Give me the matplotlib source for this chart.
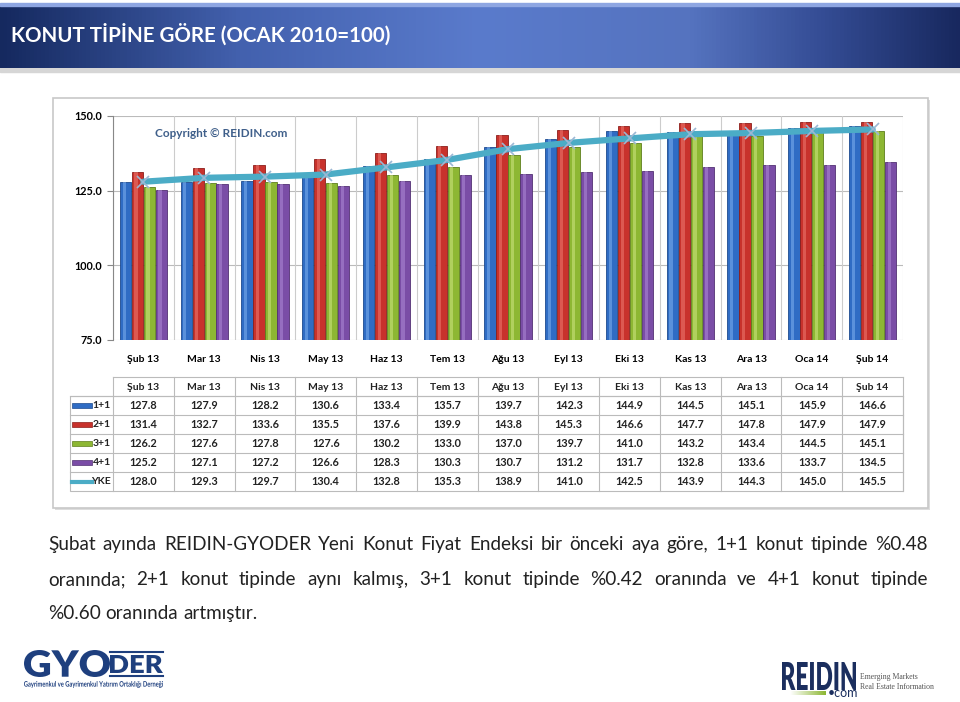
import numpy as np
import matplotlib
matplotlib.use("Agg")
import matplotlib.pyplot as plt
from matplotlib.colors import LinearSegmentedColormap
from matplotlib.textpath import TextPath
from matplotlib.font_manager import FontProperties
from matplotlib.patches import PathPatch, Rectangle
from matplotlib.transforms import Affine2D

# data
months = ["Şub 13", "Mar 13", "Nis 13", "May 13", "Haz 13", "Tem 13", "Ağu 13",
          "Eyl 13", "Eki 13", "Kas 13", "Ara 13", "Oca 14", "Şub 14"]
series_names = ["1+1", "2+1", "3+1", "4+1"]
v_1p1 = [127.8, 127.9, 128.2, 130.6, 133.4, 135.7, 139.7, 142.3, 144.9, 144.5, 145.1, 145.9, 146.6]
v_2p1 = [131.4, 132.7, 133.6, 135.5, 137.6, 139.9, 143.8, 145.3, 146.6, 147.7, 147.8, 147.9, 147.9]
v_3p1 = [126.2, 127.6, 127.8, 127.6, 130.2, 133.0, 137.0, 139.7, 141.0, 143.2, 143.4, 144.5, 145.1]
v_4p1 = [125.2, 127.1, 127.2, 126.6, 128.3, 130.3, 130.7, 131.2, 131.7, 132.8, 133.6, 133.7, 134.5]
yke = [128.0, 129.3, 129.7, 130.4, 132.8, 135.3, 138.9, 141.0, 142.5, 143.9, 144.3, 145.0, 145.5]
yticks = [75.0, 100.0, 125.0, 150.0]

title = "KONUT TİPİNE GÖRE (OCAK 2010=100)"
body_lines = [
    "Şubat ayında REIDIN-GYODER Yeni Konut Fiyat Endeksi bir önceki aya göre, 1+1 konut tipinde %0.48",
    "oranında; 2+1 konut tipinde aynı kalmış, 3+1 konut tipinde %0.42 oranında ve 4+1 konut tipinde",
    "%0.60 oranında artmıştır.",
]

bar_cols = ["#2F6CC4", "#C8322C", "#8DB733", "#7A4DA6"]
bar_hi = ["#7FB0EE", "#EE7A70", "#CDE683", "#AE8AD6"]
bar_edge = ["#1D4A8E", "#8C1E1A", "#5E7F1C", "#523173"]
line_col = "#4BACC6"

FONT = "Lato"
W, H = 960, 702
fig = plt.figure(figsize=(W / 100, H / 100), dpi=100)

# overlay in pixel coordinates for the slide decoration
ov = fig.add_axes([0, 0, 1, 1], zorder=0)
ov.set_xlim(0, W)
ov.set_ylim(H, 0)
ov.axis("off")

# header gradient bar
hdr = LinearSegmentedColormap.from_list("hdr", [(0, "#15295F"), (0.25, "#4361AE"), (0.5, "#5A7BCC"),
                                                (0.72, "#5573BF"), (0.86, "#344C94"), (1, "#18285F")])
ov.add_patch(Rectangle((0, 68), W, 4, color="#D6D6D6", zorder=1))
ov.imshow(np.linspace(0, 1, 256)[None, :], cmap=hdr, aspect="auto",
          extent=(0, W, 68, 4), zorder=2)
ov.add_patch(Rectangle((0, 3), W, 3, color="#8EA6E2", zorder=3))
ov.text(11, 34, title, color="white", fontsize=14.8, fontweight="bold",
        family=FONT, va="center", ha="left", zorder=4)

# chart frame
ov.add_patch(Rectangle((55, 100), 875, 410, facecolor="#DDDDDD", edgecolor="none", zorder=1))
ov.add_patch(Rectangle((53, 98), 875, 410, facecolor="white", edgecolor="#C8C8C8", lw=1.2, zorder=1))
ov.set_xlim(0, W)
ov.set_ylim(H, 0)

# main chart axes
px_l, px_r, px_t, px_b = 113, 903, 116, 340
ax = fig.add_axes([px_l / W, 1 - px_b / H, (px_r - px_l) / W, (px_b - px_t) / H], zorder=2)
ax.patch.set_alpha(0)
n = len(months)
x = np.arange(n)
bw = 0.185
offs = (np.arange(4) - 1.5) * (bw + 0.012)
for k, vals in enumerate([v_1p1, v_2p1, v_3p1, v_4p1]):
    ax.bar(x + offs[k], vals, width=bw, color=bar_cols[k], edgecolor=bar_edge[k],
           linewidth=0.6, zorder=3)
    ax.bar(x + offs[k] - bw * 0.12, np.array(vals) - 75, bottom=75, width=bw * 0.28,
           color=bar_hi[k], alpha=0.55, linewidth=0, zorder=4)
ax.plot(x, yke, color=line_col, lw=4.5, solid_capstyle="round", zorder=5)
ax.plot(x, yke, ls="none", marker="x", ms=9, mew=1.2, color="#9BB7D4", zorder=6)

ax.set_xlim(-0.5, n - 0.5)
ax.set_ylim(75, 150)
ax.set_yticks(yticks)
ax.set_yticklabels([f"{t:.1f}" for t in yticks], fontsize=7.8, fontweight="bold", family=FONT)
ax.set_xticks(x)
ax.set_xticklabels(months, fontsize=7.5, fontweight="bold", family=FONT)
ax.tick_params(axis="x", length=0, pad=11)
ax.tick_params(axis="y", length=4, color="#888888", pad=4)
for t in yticks:
    ax.axhline(t, color="#BBBBBB", lw=0.8, zorder=1)
for b in np.arange(-0.5, n + 0.5, 1.0):
    ax.axvline(b, color="#CCCCCC", lw=0.8, zorder=1)
for s in ["top", "right", "bottom"]:
    ax.spines[s].set_visible(False)
ax.spines["left"].set_color("#888888")
ax.spines["left"].set_linewidth(0.8)
ax.text(0.053, 0.92, "Copyright © REIDIN.com", transform=ax.transAxes, color="#3F5F8A",
        fontsize=8.5, fontweight="bold", family=FONT, va="center", zorder=7)

# data table under the chart
col_w = (px_r - px_l) / n
row_t, row_h = 377, 19
grid_c = "#BBBBBB"
ov.add_patch(Rectangle((70, row_t + row_h), px_r - 70, row_h * 5, fill=False, edgecolor=grid_c, lw=0.8, zorder=2))
ov.plot([px_l, px_r], [row_t, row_t], color=grid_c, lw=0.8, zorder=2)
for i in range(n + 1):
    xl = px_l + i * col_w
    ov.plot([xl, xl], [row_t, row_t + row_h * 6], color=grid_c, lw=0.8, zorder=2)
for r in range(1, 6):
    ov.plot([70, px_r], [row_t + r * row_h] * 2, color=grid_c, lw=0.8, zorder=2)
for i, m in enumerate(months):
    ov.text(px_l + (i + 0.5) * col_w, row_t + row_h / 2, m, fontsize=7.5, fontweight="bold",
            family=FONT, ha="center", va="center_baseline", color="#222222", zorder=3)
rows = [v_1p1, v_2p1, v_3p1, v_4p1, yke]
row_lbl = series_names + ["YKE"]
row_col = bar_cols + [line_col]
for r, vals in enumerate(rows):
    yc = row_t + (r + 1.5) * row_h
    for i, v in enumerate(vals):
        ov.text(px_l + (i + 0.5) * col_w, yc, f"{v:.1f}", fontsize=7.8, fontweight="bold",
                family=FONT, ha="center", va="center", color="#222222", zorder=3)
    if r < 4:
        ov.add_patch(Rectangle((72, yc - 2.5), 20, 5, facecolor=row_col[r], edgecolor=bar_edge[r], lw=0.5, zorder=3))
    else:
        ov.plot([72, 92], [yc, yc], color=line_col, lw=3, zorder=3)
    ov.text(111, yc, row_lbl[r], fontsize=7.5, fontweight="bold", family=FONT,
            ha="right", va="center", color="#222222", zorder=3)

# body text, justified
renderer = fig.canvas.get_renderer()
line_y = [550, 585, 619]
x0, x1 = 48, 928
fs_body = 13.6
for li, line in enumerate(body_lines):
    words = line.split(" ")
    ts = [ov.text(0, line_y[li], w, fontsize=fs_body, family=FONT, color="#222222",
                  va="baseline", ha="left", zorder=3) for w in words]
    widths = [t.get_window_extent(renderer).width for t in ts]
    if li < len(body_lines) - 1:
        gap = (x1 - x0 - sum(widths)) / (len(words) - 1)
    else:
        sp = ov.text(0, 0, "a a", fontsize=fs_body, family=FONT)
        sa = ov.text(0, 0, "aa", fontsize=fs_body, family=FONT)
        gap = sp.get_window_extent(renderer).width - sa.get_window_extent(renderer).width
        sp.remove()
        sa.remove()
    xx = x0
    for t, w in zip(ts, widths):
        t.set_x(xx)
        xx += w + gap


def fit_text(s, box, color, weight="bold", family=FONT):
    # draw text as a path stretched into box (x0, y0, x1, y1) in pixel coords
    tp = TextPath((0, 0), s, size=10, prop=FontProperties(family=family, weight=weight))
    ext = tp.get_extents()
    bx0, by0, bx1, by1 = box
    sx = (bx1 - bx0) / ext.width
    sy = (by1 - by0) / ext.height
    tr = Affine2D().translate(-ext.x0, -ext.y0).scale(sx, -sy).translate(bx0, by1)
    ov.add_patch(PathPatch(tr.transform_path(tp), color=color, lw=0, zorder=3))


# logos
fit_text("GYO", (24, 650, 110, 677), "#1E3F7E", weight="heavy")
fit_text("DER", (110, 655, 163, 673), "#1E3F7E", weight="heavy")
ov.plot([110, 163], [652, 652], color="#1E3F7E", lw=1.5, zorder=3)
ov.plot([110, 163], [676, 676], color="#1E3F7E", lw=1.5, zorder=3)
fit_text("Gayrimenkul ve Gayrimenkul Yatırım Ortaklığı Derneği", (24, 681, 163, 688), "#1E3F7E")
fit_text("REIDIN", (782, 662, 856, 690), "#1B2E5E", weight="heavy")
green = LinearSegmentedColormap.from_list("g", ["#FFFFFF", "#8DB733"])
ov.imshow(np.linspace(0, 1, 64)[None, :], cmap=green, aspect="auto", extent=(790, 826, 695, 691), zorder=3)
ov.text(828, 693, "•com", fontsize=9, family=FONT, color="#1B2E5E", va="center", zorder=3)
ov.text(860, 677, "Emerging Markets", fontsize=5.6, family="Liberation Serif", color="#555555", va="center", zorder=3)
ov.text(860, 687, "Real Estate Information", fontsize=5.6, family="Liberation Serif", color="#555555", va="center", zorder=3)
ov.set_xlim(0, W)
ov.set_ylim(H, 0)

fig.savefig("out.png", dpi=100)
